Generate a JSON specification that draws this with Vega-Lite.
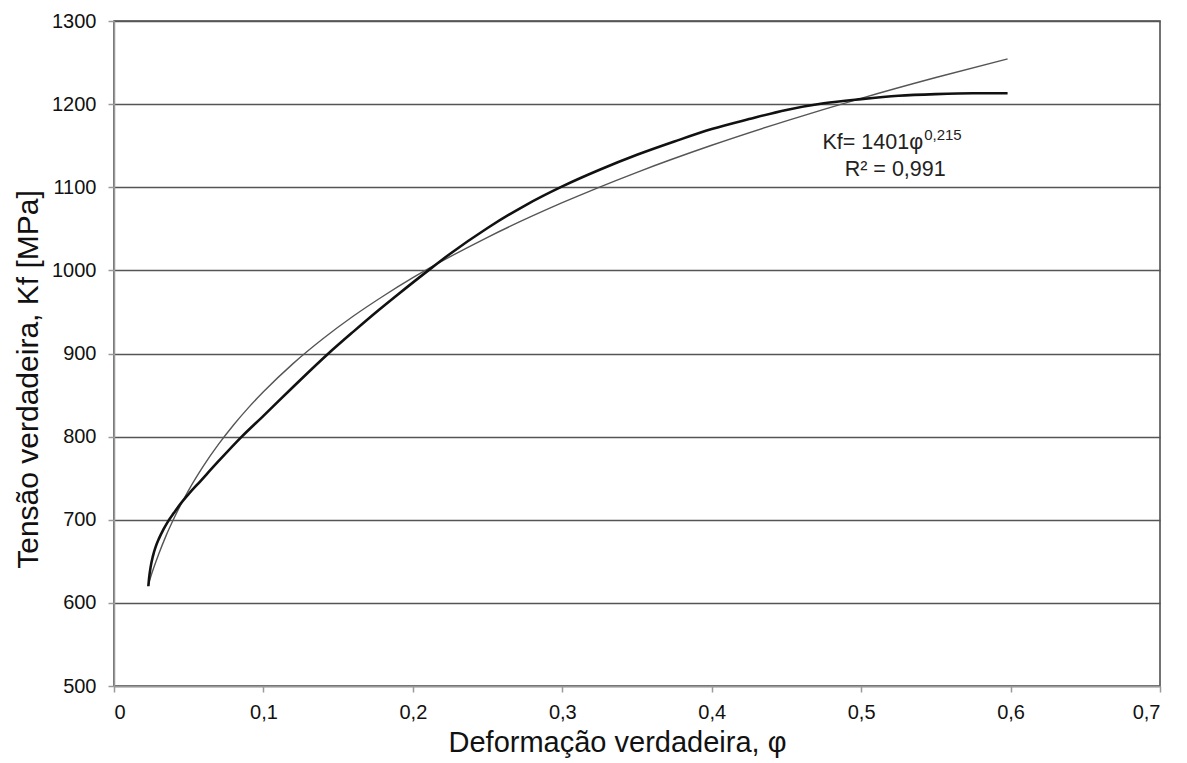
{
  "$schema": "https://vega.github.io/schema/vega-lite/v6.json",
  "autosize": {"type": "none"},
  "width": 1046,
  "height": 665,
  "padding": {"left": 114, "top": 21, "right": 27, "bottom": 77},
  "background": "white",
  "config": {
    "font": "Liberation Sans",
    "view": {"stroke": "#444", "strokeWidth": 1.5}
  },
  "datasets": {
    "experimental": [
      {"phi": 0.023, "kf": 620}, {"phi": 0.0235, "kf": 630}, {"phi": 0.0245, "kf": 643},
      {"phi": 0.026, "kf": 656}, {"phi": 0.028, "kf": 668}, {"phi": 0.03, "kf": 677},
      {"phi": 0.033, "kf": 688}, {"phi": 0.0365, "kf": 699}, {"phi": 0.04, "kf": 708},
      {"phi": 0.044, "kf": 718}, {"phi": 0.05, "kf": 731}, {"phi": 0.0576, "kf": 746},
      {"phi": 0.0687, "kf": 768}, {"phi": 0.0855, "kf": 800}, {"phi": 0.1, "kf": 825},
      {"phi": 0.12, "kf": 860}, {"phi": 0.1435, "kf": 900}, {"phi": 0.16, "kf": 926},
      {"phi": 0.177, "kf": 952}, {"phi": 0.19, "kf": 971}, {"phi": 0.2104, "kf": 1000},
      {"phi": 0.225, "kf": 1020}, {"phi": 0.25, "kf": 1051}, {"phi": 0.275, "kf": 1078},
      {"phi": 0.3, "kf": 1101}, {"phi": 0.325, "kf": 1121}, {"phi": 0.35, "kf": 1139},
      {"phi": 0.375, "kf": 1155}, {"phi": 0.4, "kf": 1170}, {"phi": 0.425, "kf": 1182},
      {"phi": 0.45, "kf": 1193}, {"phi": 0.475, "kf": 1201}, {"phi": 0.5, "kf": 1206},
      {"phi": 0.525, "kf": 1210}, {"phi": 0.55, "kf": 1212}, {"phi": 0.575, "kf": 1213},
      {"phi": 0.598, "kf": 1213}
    ],
    "ajuste": [
      {"phi": 0.023, "kf": 622}, {"phi": 0.025, "kf": 633.8}, {"phi": 0.03, "kf": 659},
      {"phi": 0.035, "kf": 681.5}, {"phi": 0.04, "kf": 701.2}, {"phi": 0.05, "kf": 735.7},
      {"phi": 0.06, "kf": 765.1}, {"phi": 0.07, "kf": 790.9}, {"phi": 0.08, "kf": 814},
      {"phi": 0.09, "kf": 834.9}, {"phi": 0.1, "kf": 853.9}, {"phi": 0.12, "kf": 888.1},
      {"phi": 0.14, "kf": 918}, {"phi": 0.16, "kf": 944.8}, {"phi": 0.18, "kf": 968.9},
      {"phi": 0.2, "kf": 991.2}, {"phi": 0.25, "kf": 1039.8}, {"phi": 0.3, "kf": 1081.4},
      {"phi": 0.35, "kf": 1118}, {"phi": 0.4, "kf": 1150.5}, {"phi": 0.45, "kf": 1179.9},
      {"phi": 0.5, "kf": 1207}, {"phi": 0.55, "kf": 1232}, {"phi": 0.598, "kf": 1254.4}
    ]
  },
  "layer": [
    {
      "data": {"name": "ajuste"},
      "mark": {"type": "line", "color": "#555", "strokeWidth": 1.4, "interpolate": "monotone"},
      "encoding": {
        "x": {
          "field": "phi", "type": "quantitative",
          "scale": {"domain": [0, 0.7], "nice": false, "zero": false},
          "axis": {
            "title": "Deformação verdadeira, φ",
            "titleFontSize": 29, "titleFontWeight": "normal", "titleColor": "#111",
            "titlePadding": 6, "titleX": 503,
            "values": [0, 0.1, 0.2, 0.3, 0.4, 0.5, 0.6, 0.7],
            "labelExpr": "datum.value == 0 ? '0' : replace(format(datum.value, '.1f'), '.', ',')",
            "labelFontSize": 20, "labelColor": "#111", "labelPadding": 10,
            "grid": false,
            "domainColor": "#999", "domainWidth": 1.5,
            "tickColor": "#999", "tickSize": 6, "tickWidth": 1.5
          }
        },
        "y": {
          "field": "kf", "type": "quantitative",
          "scale": {"domain": [500, 1300], "nice": false, "zero": false},
          "axis": {
            "title": "Tensão verdadeira, Kf [MPa]",
            "titleFontSize": 30, "titleFontWeight": "normal", "titleColor": "#111",
            "titlePadding": 8, "titleY": 358,
            "values": [500, 600, 700, 800, 900, 1000, 1100, 1200, 1300],
            "format": "d",
            "labelFontSize": 20, "labelColor": "#111", "labelPadding": 12,
            "grid": true, "gridColor": "#555", "gridWidth": 1.5,
            "domainColor": "#999", "domainWidth": 1.5,
            "tickColor": "#999", "tickSize": 6, "tickWidth": 1.5
          }
        }
      }
    },
    {
      "data": {"name": "experimental"},
      "mark": {"type": "line", "color": "#111", "strokeWidth": 2.6, "interpolate": "monotone"},
      "encoding": {
        "x": {"field": "phi", "type": "quantitative"},
        "y": {"field": "kf", "type": "quantitative"}
      }
    },
    {
      "data": {"values": [{"t": "Kf= 1401φ"}]},
      "mark": {"type": "text", "align": "right", "baseline": "alphabetic", "fontSize": 21.5, "color": "#222"},
      "encoding": {
        "x": {"datum": 0.5415, "type": "quantitative"},
        "y": {"datum": 1146.5, "type": "quantitative"},
        "text": {"field": "t"}
      }
    },
    {
      "data": {"values": [{"t": "0,215"}]},
      "mark": {"type": "text", "align": "left", "baseline": "alphabetic", "fontSize": 15, "dx": 1, "color": "#222"},
      "encoding": {
        "x": {"datum": 0.5415, "type": "quantitative"},
        "y": {"datum": 1157, "type": "quantitative"},
        "text": {"field": "t"}
      }
    },
    {
      "data": {"values": [{"t": "R² = 0,991"}]},
      "mark": {"type": "text", "align": "center", "baseline": "alphabetic", "fontSize": 21.5, "color": "#222"},
      "encoding": {
        "x": {"datum": 0.5228, "type": "quantitative"},
        "y": {"datum": 1114, "type": "quantitative"},
        "text": {"field": "t"}
      }
    }
  ]
}
